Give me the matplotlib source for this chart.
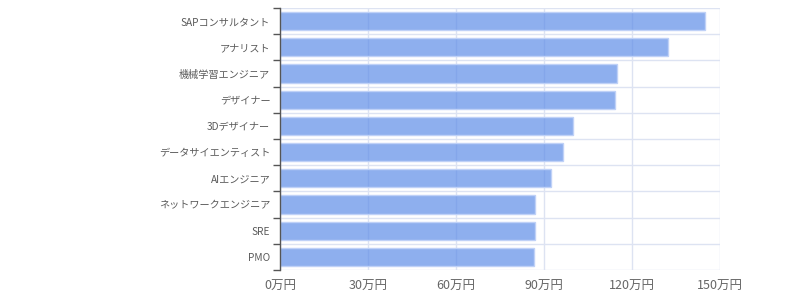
import matplotlib
matplotlib.use("Agg")
import matplotlib.pyplot as plt
import numpy as np

plt.rcParams['font.family'] = ['Noto Sans CJK JP', 'DejaVu Sans']

categories = ["SAPコンサルタント", "アナリスト", "機械学習エンジニア", "デザイナー", "3Dデザイナー",
              "データサイエンティスト", "AIエンジニア", "ネットワークエンジニア", "SRE", "PMO"]
values = [145.0, 132.4, 114.9, 114.3, 100.0, 96.4, 92.5, 87.0, 86.8, 86.5]
xticks = [0, 30, 60, 90, 120, 150]
xticklabels = ["0万円", "30万円", "60万円", "90万円", "120万円", "150万円"]

fig = plt.figure(figsize=(8, 3), dpi=100)
ax = fig.add_axes([0.35, 0.1, 0.55, 0.8733])

n = len(categories)
y = np.arange(n)
grid_c = '#DDE3F2'

ax.set_xlim(0, 150)
ax.set_ylim(n - 0.5, -0.5)

# grid
for xv in xticks:
    ax.axvline(xv, color=grid_c, lw=1, zorder=0)
for b in np.arange(-0.5, n, 1):
    ax.axhline(b, color=grid_c, lw=1, zorder=0)

ax.barh(y, values, height=0.7, color=(0.37, 0.552, 0.905, 0.7),
        edgecolor=(0.75, 0.82, 0.97, 1.0), linewidth=1, zorder=2)

ax.set_yticks(y)
ax.set_yticklabels(categories, fontsize=7.3, color='#5a5a5a')
ax.set_yticks(np.arange(-0.5, n, 1), minor=True)
ax.tick_params(axis='y', which='major', length=0, pad=7)
ax.tick_params(axis='y', which='minor', length=5, color='#555555', width=1)

ax.set_xticks(xticks)
ax.set_xticklabels(xticklabels, fontsize=9, color='#666666')
ax.tick_params(axis='x', length=0, pad=7)

for s in ['top', 'right', 'bottom']:
    ax.spines[s].set_visible(False)
ax.spines['left'].set_color('#555555')
ax.spines['left'].set_linewidth(1)

fig.savefig("out.png", dpi=100)
